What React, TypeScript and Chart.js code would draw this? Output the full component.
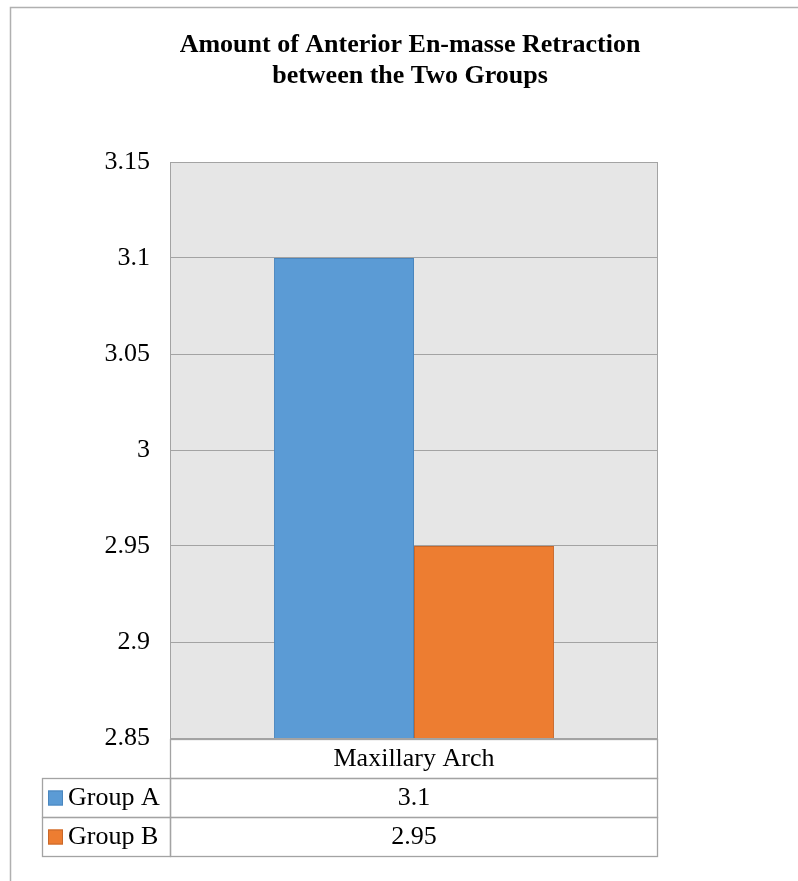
import React, { useEffect, useRef } from "react";
import { Chart, registerables } from "chart.js";

Chart.register(...registerables);

const titleLines = ["Amount of Anterior En-masse Retraction", "between the Two Groups"];
const categories = ["Maxillary Arch"];
const seriesNames = ["Group A", "Group B"];
const groupA = [3.1];
const groupB = [2.95];
const valueLabelsA = ["3.1"];
const valueLabelsB = ["2.95"];
const yTickLabels = ["2.85", "2.9", "2.95", "3", "3.05", "3.1", "3.15"];
const yMin = 2.85;
const yMax = 3.15;
const yStep = 0.05;

const seriesColors = ["#5b9bd5", "#ed7d31"];
const seriesBorders = ["#4a86be", "#c8682a"];
const FONT = "'Liberation Serif', 'Times New Roman', serif";
const GRID = "#a3a3a3";

const decorPlugin = {
  id: "decor",
  beforeDraw(chart: any) {
    const { ctx, chartArea } = chart;
    ctx.save();
    ctx.fillStyle = "#ffffff";
    ctx.fillRect(0, 0, chart.width, chart.height);
    // outer frame
    ctx.strokeStyle = "#b0b0b0";
    ctx.lineWidth = 1.5;
    ctx.beginPath();
    ctx.moveTo(10.5, chart.height);
    ctx.lineTo(10.5, 7.5);
    ctx.lineTo(chart.width, 7.5);
    ctx.stroke();
    // plot background
    ctx.fillStyle = "#e6e6e6";
    ctx.fillRect(chartArea.left, chartArea.top, chartArea.right - chartArea.left, chartArea.bottom - chartArea.top);
    // title
    ctx.fillStyle = "#000000";
    ctx.font = `bold 26px ${FONT}`;
    ctx.textAlign = "center";
    ctx.textBaseline = "middle";
    const cx = (chartArea.left + chartArea.right) / 2 - 4;
    ctx.fillText(titleLines[0], cx, 45);
    ctx.fillText(titleLines[1], cx, 76);
    ctx.restore();
  },
  afterDraw(chart: any) {
    const { ctx, chartArea } = chart;
    const xs = chart.scales.x;
    ctx.save();
    // plot border
    ctx.strokeStyle = GRID;
    ctx.lineWidth = 1;
    ctx.strokeRect(chartArea.left + 0.5, chartArea.top + 0.5, chartArea.right - chartArea.left - 1, chartArea.bottom - chartArea.top);

    // data table
    const tableTop = chartArea.bottom + 1;
    const rowH = 39;
    const leftEdge = 42;
    const n = categories.length;
    const colW = (chartArea.right - chartArea.left) / n;
    ctx.strokeStyle = GRID;
    ctx.lineWidth = 1.3;
    // header row
    ctx.strokeRect(chartArea.left + 0.5, tableTop + 0.5, chartArea.right - chartArea.left - 1, rowH);
    // series rows
    for (let r = 0; r < seriesNames.length; r++) {
      const y = tableTop + rowH * (r + 1) + 0.5;
      ctx.strokeRect(leftEdge + 0.5, y, chartArea.left - leftEdge, rowH);
      for (let c = 0; c < n; c++) {
        const x0 = chartArea.left + c * colW;
        ctx.strokeRect(x0 + 0.5, y, colW - 1, rowH);
      }
    }
    ctx.fillStyle = "#000000";
    ctx.font = `26px ${FONT}`;
    ctx.textBaseline = "middle";
    ctx.textAlign = "center";
    for (let c = 0; c < n; c++) {
      const cx = xs.getPixelForValue(c);
      ctx.fillText(categories[c], cx, tableTop + rowH / 2 + 1);
      ctx.fillText(valueLabelsA[c], cx, tableTop + rowH * 1.5 + 1);
      ctx.fillText(valueLabelsB[c], cx, tableTop + rowH * 2.5 + 1);
    }
    ctx.textAlign = "left";
    for (let r = 0; r < seriesNames.length; r++) {
      const cy = tableTop + rowH * (r + 1.5);
      ctx.fillStyle = seriesColors[r];
      ctx.fillRect(48, cy - 7, 15, 15);
      ctx.strokeStyle = seriesBorders[r];
      ctx.lineWidth = 1;
      ctx.strokeRect(48.5, cy - 6.5, 14, 14);
      ctx.fillStyle = "#000000";
      ctx.fillText(seriesNames[r], 68, cy + 1);
    }
    ctx.restore();
  },
};

export default function App() {
  const ref = useRef<HTMLCanvasElement>(null);
  useEffect(() => {
    document.body.style.margin = "0";
    const chart = new Chart(ref.current as HTMLCanvasElement, {
      type: "bar",
      data: {
        labels: categories,
        datasets: [
          {
            label: seriesNames[0],
            data: groupA,
            backgroundColor: seriesColors[0],
            borderColor: seriesBorders[0],
            borderWidth: 1,
            categoryPercentage: 0.574,
            barPercentage: 1,
          },
          {
            label: seriesNames[1],
            data: groupB,
            backgroundColor: seriesColors[1],
            borderColor: seriesBorders[1],
            borderWidth: 1,
            categoryPercentage: 0.574,
            barPercentage: 1,
          },
        ],
      },
      options: {
        responsive: false,
        animation: false,
        devicePixelRatio: 1,
        layout: { padding: { left: 42, right: 140, top: 162, bottom: 143 } },
        plugins: {
          legend: { display: false },
          title: { display: false },
          tooltip: { enabled: false },
        },
        scales: {
          x: { display: false },
          y: {
            min: yMin,
            max: yMax,
            afterFit: (scale: any) => {
              scale.width = 128;
            },
            ticks: {
              stepSize: yStep,
              padding: 20,
              color: "#000000",
              font: { family: FONT, size: 26 },
              callback: (_v: any, i: number) => yTickLabels[i],
            },
            grid: { color: GRID, lineWidth: 1, drawTicks: false },
            border: { display: true, color: GRID },
          },
        },
      },
      plugins: [decorPlugin],
    });
    return () => chart.destroy();
  }, []);
  return (
    <div style={{ position: "absolute", left: 0, top: 0, width: 798, height: 881 }}>
      <canvas ref={ref} width={798} height={881} />
    </div>
  );
}
